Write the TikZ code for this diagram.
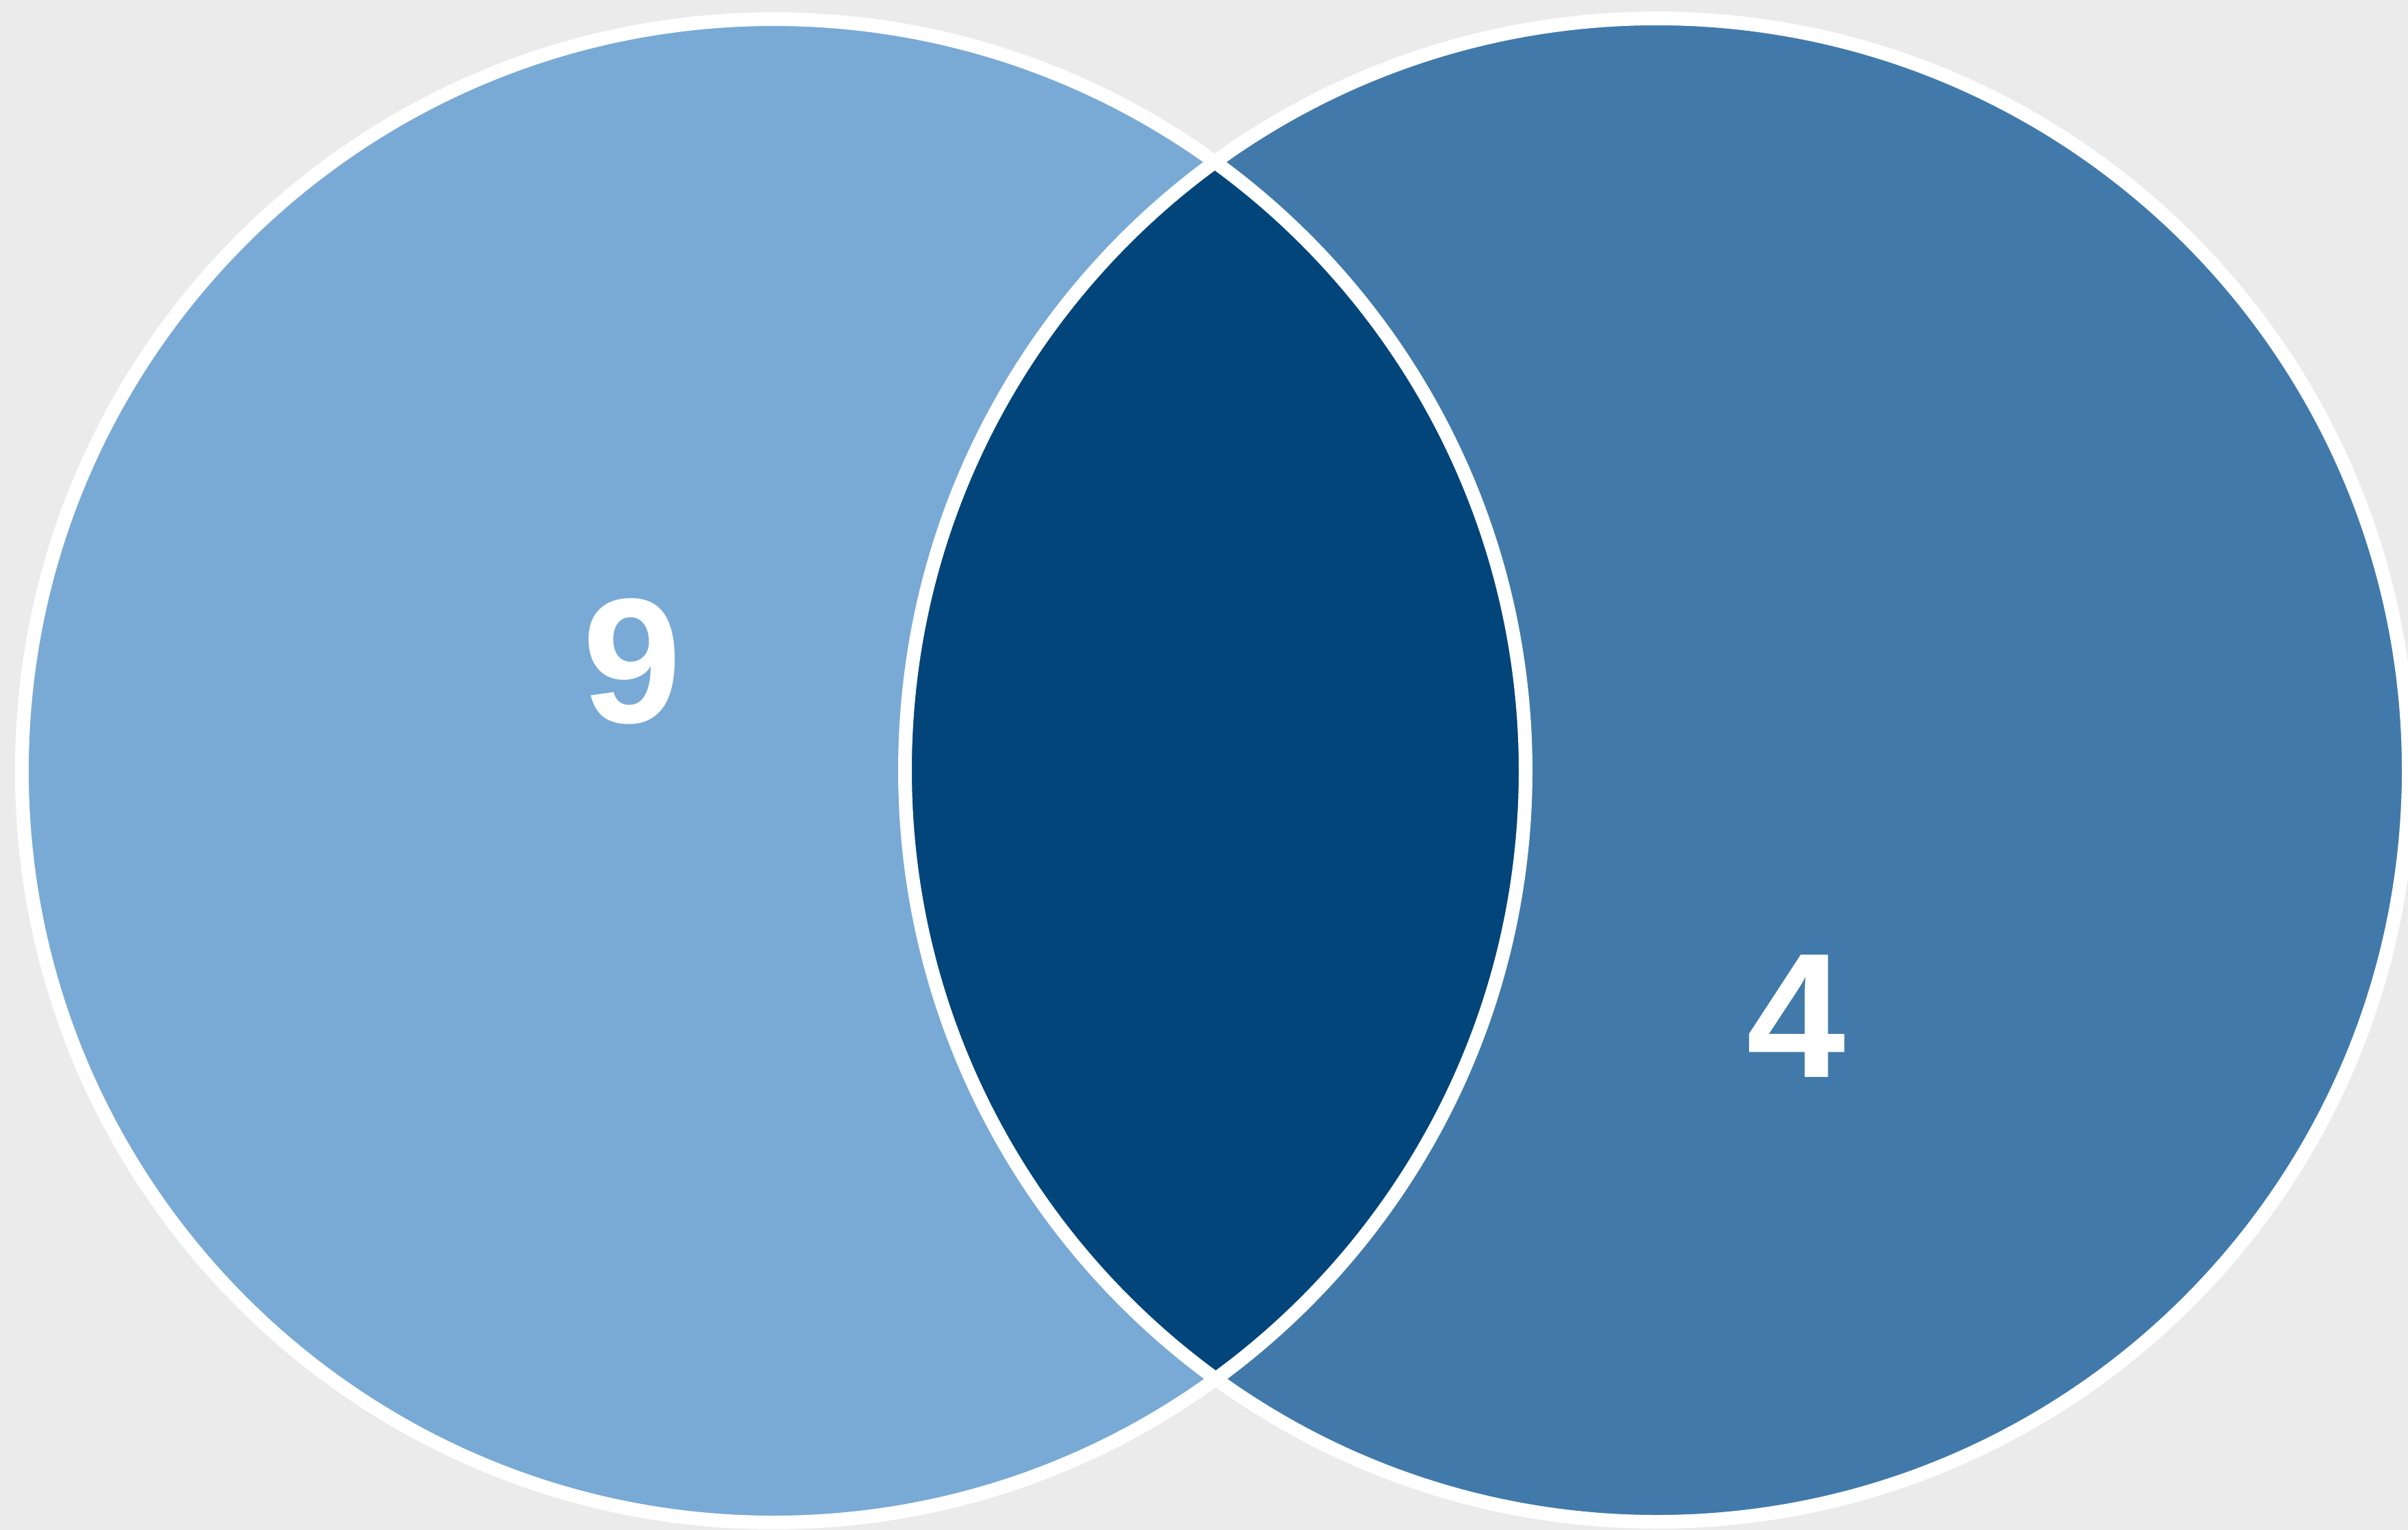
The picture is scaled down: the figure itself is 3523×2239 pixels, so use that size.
\documentclass[tikz,border=0pt]{standalone}
\usepackage{fontspec}
\setmainfont{Liberation Sans}
\definecolor{backgray}{HTML}{EBEBEB}
\definecolor{setA}{HTML}{79AAD5}
\definecolor{setB}{HTML}{417AAA}
\definecolor{setAB}{HTML}{02457A}
\begin{document}
\begin{tikzpicture}[x=0.01cm,y=-0.01cm,
  rim/.style={draw=white,line width=0.2cm},
  count/.style={text=white,font=\bfseries\fontsize{74}{80}\selectfont}]
\fill[backgray] (0,0) rectangle (3523,2239);
\useasboundingbox (0,0) rectangle (3523,2239);
\clip (0,0) rectangle (3523,2239);
\fill[setA] (1132,1128) circle[radius=1100];
\fill[setB] (2424,1127) circle[radius=1100];
\begin{scope}
  \clip (1132,1128) circle[radius=1100];
  \fill[setAB] (2424,1127) circle[radius=1100];
\end{scope}
\draw[rim] (1132,1128) circle[radius=1100];
\draw[rim] (2424,1127) circle[radius=1100];
\node[count] (onlyA) at (925,968) {9};
\node[count] (onlyB) at (2628,1487) {4};
\end{tikzpicture}
\end{document}
